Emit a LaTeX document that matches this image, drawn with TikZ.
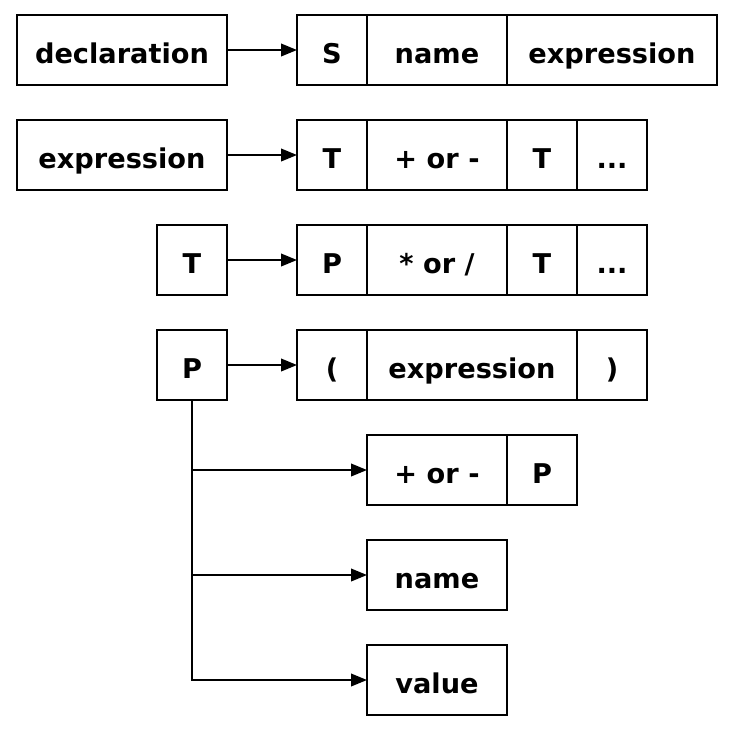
\documentclass[tikz,border=0pt]{standalone}
\usepackage{fontspec}
\setmainfont{DejaVu Sans}
\usetikzlibrary{arrows.meta,positioning}

\begin{document}
\begin{tikzpicture}[
  x=0.75pt, y=-0.75pt, line width=1.3pt,
  box/.style={rectangle, draw, inner sep=0pt, outer sep=0pt, minimum height=52.5pt,
    text height=19.5pt, text depth=0pt, font=\fontsize{20.4}{24}\selectfont\bfseries},
  narrow/.style={minimum width=52.5pt},
  mid/.style={minimum width=105pt},
  wide/.style={minimum width=157.5pt},
  >={Triangle[length=12pt, width=9.5pt]},
  every edge/.style={draw, ->}
]
\useasboundingbox (0,0) rectangle (736,733);

% Row 1: declaration
\node[box, wide] (DECL) at (122,50) {declaration};
\node[box, narrow, right=52.5pt of DECL] (S) {S};
\node[box, mid, right=0pt of S] (NAME) {name};
\node[box, wide, right=0pt of NAME] (EXPR_A) {expression};
\path (DECL) edge (S);

% Row 2: expression
\node[box, wide, below=26.25pt of DECL] (EXPR) {expression};
\node[box, narrow, right=52.5pt of EXPR] (T_A) {T};
\node[box, mid, right=0pt of T_A] (ADD) {+ or -};
\node[box, narrow, right=0pt of ADD] (T_B) {T};
\node[box, narrow, right=0pt of T_B] (DOTS_A) {...};
\path (EXPR) edge (T_A);

% Row 3: T
\node[box, narrow] (T) at (192,260) {T};
\node[box, narrow, right=52.5pt of T] (P_A) {P};
\node[box, mid, right=0pt of P_A] (MUL) {* or /};
\node[box, narrow, right=0pt of MUL] (T_C) {T};
\node[box, narrow, right=0pt of T_C] (DOTS_B) {...};
\path (T) edge (P_A);

% Row 4: P
\node[box, narrow] (P) at (192,365) {P};
\node[box, narrow, right=52.5pt of P] (LPAR) {(};
\node[box, wide, right=0pt of LPAR] (EXPR_B) {expression};
\node[box, narrow, right=0pt of EXPR_B] (RPAR) {)};
\path (P) edge (LPAR);

% alternatives of P
\node[box, mid] (SIGN) at (437,470) {+ or -};
\node[box, narrow, right=0pt of SIGN] (P_B) {P};
\node[box, mid] (NAME_B) at (437,575) {name};
\node[box, mid] (VALUE) at (437,680) {value};

\draw[->] (P.south) |- (SIGN);
\draw[->] (P.south) |- (NAME_B);
\draw[->] (P.south) |- (VALUE);

\end{tikzpicture}
\end{document}
